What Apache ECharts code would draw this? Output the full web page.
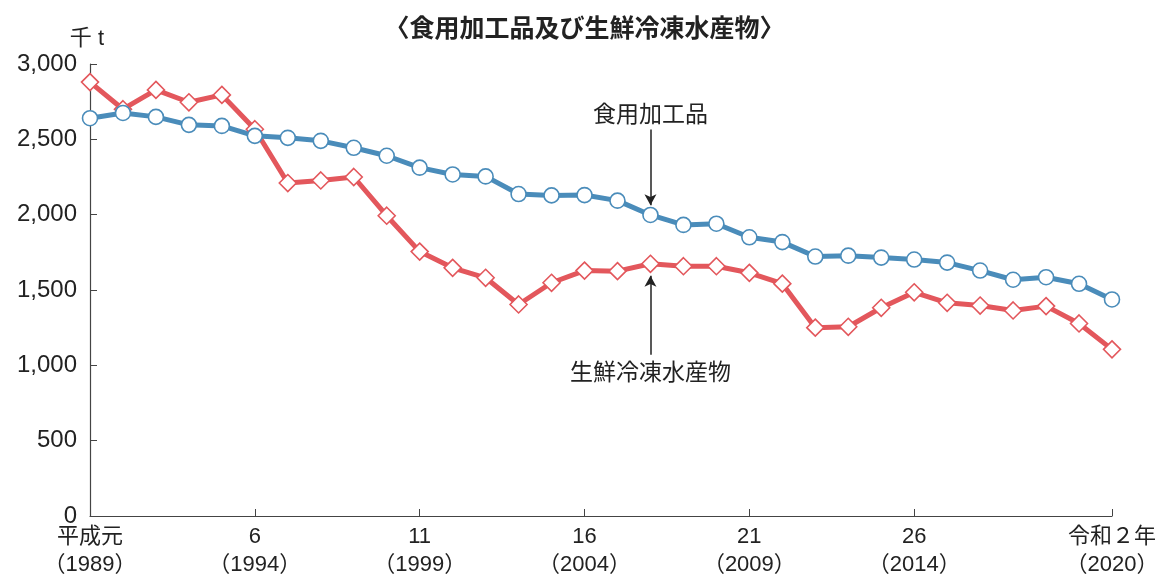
<!DOCTYPE html>
<html>
<head>
<meta charset="utf-8">
<script src="https://cdn.jsdelivr.net/npm/echarts@6/dist/echarts.min.js"></script>
<style>
  html, body { margin: 0; padding: 0; background: #fff; }
  #main { width: 1169px; height: 579px; }
</style>
</head>
<body>
<div id="main"></div>
<script>
// 年（西暦）
var years = ['1989','1990','1991','1992','1993','1994','1995','1996','1997','1998',
  '1999','2000','2001','2002','2003','2004','2005','2006','2007','2008',
  '2009','2010','2011','2012','2013','2014','2015','2016','2017','2018','2019','2020'];

// 食用加工品（千t）
var processed = [2640, 2675, 2649, 2596, 2589, 2523, 2510, 2490, 2444, 2391,
  2312, 2267, 2254, 2137, 2128, 2130, 2093, 1998, 1932, 1940,
  1850, 1818, 1722, 1728, 1715, 1702, 1682, 1629, 1568, 1585, 1541, 1437];

// 生鮮冷凍水産物（千t）
var frozen = [2880, 2700, 2828, 2746, 2795, 2567, 2210, 2227, 2250, 1993,
  1755, 1647, 1581, 1404, 1548, 1629, 1625, 1674, 1658, 1658,
  1614, 1542, 1250, 1256, 1382, 1485, 1415, 1397, 1364, 1393, 1278, 1106];

// 目盛ラベル
var tickYears = ['1989','1994','1999','2004','2009','2014','2020'];
var tickLabels = ['平成元\n（1989）','6\n（1994）','11\n（1999）','16\n（2004）',
  '21\n（2009）','26\n（2014）','令和２年\n（2020）'];

var yTicks = [0, 500, 1000, 1500, 2000, 2500, 3000];

var font = 'Liberation Sans, "Noto Sans CJK JP", sans-serif';
var jpFont = '"Noto Sans CJK JP", sans-serif';
var blue = '#4a8cba';
var red = '#e3575c';

var chartDom = document.getElementById('main');
var myChart = echarts.init(chartDom);

function isTick(i) {
  return tickYears.indexOf(years[i]) >= 0;
}

var option = {
  animation: false,
  title: {
    text: '〈食用加工品及び生鮮冷凍水産物〉',
    left: 'center',
    top: 10,
    textStyle: { fontFamily: jpFont, fontSize: 25, fontWeight: 'bold', color: '#222' }
  },
  grid: { left: 90, right: 57, top: 64, bottom: 62 },
  xAxis: {
    type: 'category',
    data: years,
    boundaryGap: false,
    axisLine: { lineStyle: { color: '#444', width: 1.2 } },
    axisTick: { inside: true, length: 7, interval: function (i) { return isTick(i); }, lineStyle: { color: '#444' } },
    axisLabel: {
      interval: function (i) { return isTick(i); },
      formatter: function (v) { return tickLabels[tickYears.indexOf(v)]; },
      fontFamily: font, fontSize: 22, color: '#222', lineHeight: 28, margin: 7
    }
  },
  yAxis: {
    type: 'value',
    min: yTicks[0],
    max: yTicks[yTicks.length - 1],
    interval: 500,
    name: '千 t',
    nameGap: 14,
    nameTextStyle: { fontFamily: font, fontSize: 22, color: '#222', align: 'right', padding: [0, -14, 0, 0] },
    splitLine: { show: false },
    axisLine: { show: true, lineStyle: { color: '#444', width: 1.2 } },
    axisTick: { show: true, inside: true, length: 7, lineStyle: { color: '#444' } },
    axisLabel: {
      formatter: function (v) { return v.toLocaleString('en-US'); },
      fontFamily: font, fontSize: 24, color: '#222', margin: 13
    }
  },
  series: [
    {
      name: '生鮮冷凍水産物',
      type: 'line',
      data: frozen,
      symbol: 'diamond',
      symbolSize: 17,
      showAllSymbol: true,
      lineStyle: { color: red, width: 5 },
      itemStyle: { color: '#fff', borderColor: red, borderWidth: 1.6 },
      markPoint: {
        silent: true,
        symbolSize: 0,
        data: [{ coord: ['2006', 960], value: '生鮮冷凍水産物' }],
        label: { show: true, position: 'inside', formatter: '生鮮冷凍水産物', fontFamily: jpFont, fontSize: 23, color: '#222' }
      },
      markLine: {
        silent: true,
        symbol: ['none', 'arrow'],
        symbolSize: [9, 11],
        label: { show: false },
        lineStyle: { color: '#222', width: 1.5, type: 'solid' },
        data: [[{ coord: ['2006', 1070] }, { coord: ['2006', 1595] }]]
      }
    },
    {
      name: '食用加工品',
      type: 'line',
      data: processed,
      symbol: 'circle',
      symbolSize: 15,
      showAllSymbol: true,
      lineStyle: { color: blue, width: 5 },
      itemStyle: { color: '#fff', borderColor: blue, borderWidth: 1.6 },
      markPoint: {
        silent: true,
        symbolSize: 0,
        data: [{ coord: ['2006', 2670], value: '食用加工品' }],
        label: { show: true, position: 'inside', formatter: '食用加工品', fontFamily: jpFont, fontSize: 23, color: '#222' }
      },
      markLine: {
        silent: true,
        symbol: ['none', 'arrow'],
        symbolSize: [9, 11],
        label: { show: false },
        lineStyle: { color: '#222', width: 1.5, type: 'solid' },
        data: [[{ coord: ['2006', 2565] }, { coord: ['2006', 2062] }]]
      }
    }
  ]
};

option && myChart.setOption(option);
</script>
</body>
</html>
